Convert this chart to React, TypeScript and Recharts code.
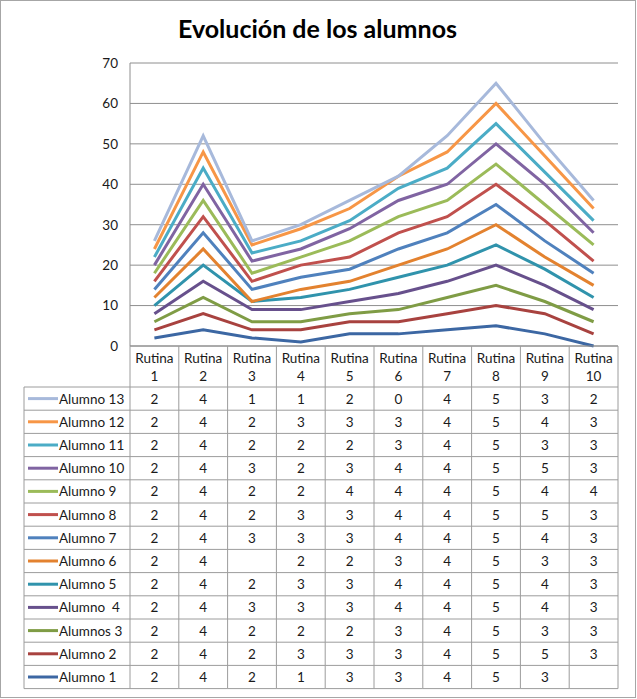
import React from 'react';
import { ComposedChart, Area, XAxis, YAxis, CartesianGrid } from 'recharts';

const categories = ['Rutina 1', 'Rutina 2', 'Rutina 3', 'Rutina 4', 'Rutina 5', 'Rutina 6', 'Rutina 7', 'Rutina 8', 'Rutina 9', 'Rutina 10'];
const yTicks = [0, 10, 20, 30, 40, 50, 60, 70];

const alumno1 = [2, 4, 2, 1, 3, 3, 4, 5, 3, null];
const alumno2 = [2, 4, 2, 3, 3, 3, 4, 5, 5, 3];
const alumno3 = [2, 4, 2, 2, 2, 3, 4, 5, 3, 3];
const alumno4 = [2, 4, 3, 3, 3, 4, 4, 5, 4, 3];
const alumno5 = [2, 4, 2, 3, 3, 4, 4, 5, 4, 3];
const alumno6 = [2, 4, null, 2, 2, 3, 4, 5, 3, 3];
const alumno7 = [2, 4, 3, 3, 3, 4, 4, 5, 4, 3];
const alumno8 = [2, 4, 2, 3, 3, 4, 4, 5, 5, 3];
const alumno9 = [2, 4, 2, 2, 4, 4, 4, 5, 4, 4];
const alumno10 = [2, 4, 3, 2, 3, 4, 4, 5, 5, 3];
const alumno11 = [2, 4, 2, 2, 2, 3, 4, 5, 3, 3];
const alumno12 = [2, 4, 2, 3, 3, 3, 4, 5, 4, 3];
const alumno13 = [2, 4, 1, 1, 2, 0, 4, 5, 3, 2];

const seriesNames = ['Alumno 1', 'Alumno 2', 'Alumnos 3', 'Alumno  4', 'Alumno 5', 'Alumno 6', 'Alumno 7', 'Alumno 8', 'Alumno 9', 'Alumno 10', 'Alumno 11', 'Alumno 12', 'Alumno 13'];
const seriesValues = [alumno1, alumno2, alumno3, alumno4, alumno5, alumno6, alumno7, alumno8, alumno9, alumno10, alumno11, alumno12, alumno13];
const seriesColors = ['#3C67A3', '#A8423F', '#7F9C45', '#67508C', '#3093AC', '#E3822F', '#4F81BD', '#C0504D', '#9BBB59', '#8064A2', '#4BACC6', '#F79646', '#A7B9DB'];

const data = categories.map((c, i) => {
  const row: Record<string, any> = { name: c };
  seriesValues.forEach((vals, s) => {
    row['s' + s] = vals[i] ?? 0;
  });
  return row;
});

const FONT = 'Lato, "Open Sans", sans-serif';
const GRID = '#8E8E8E';
const TABLE_LINE = '#9C9C9C';
const TXT = 13.5;
const W = 637;
const H = 699;
const MARGIN = { top: 63, right: 19, left: 0, bottom: 10 };
const Y_AXIS_W = 130;
const X_AXIS_H = 343;
const PLOT_W = W - MARGIN.left - MARGIN.right - Y_AXIS_W;
const COL_W = PLOT_W / categories.length;
const HEADER_H = 41;
const ROW_H = 23.2;
const LEGEND_LEFT = 24;
const nRows = seriesNames.length;

function TableTick(props: any) {
  const { x, y, payload, index } = props;
  const left = x - COL_W / 2;
  const right = x + COL_W / 2;
  const bottom = y + HEADER_H + nRows * ROW_H;
  const parts = String(payload.value).split(' ');
  const ci = categories.indexOf(payload.value);
  const order = seriesNames.map((_, i) => nRows - 1 - i);
  return (
    <g>
      <line x1={right} y1={y} x2={right} y2={bottom} stroke={TABLE_LINE} strokeWidth={1} />
      {index === 0 && <line x1={left} y1={y} x2={left} y2={bottom} stroke={TABLE_LINE} strokeWidth={1} />}
      <text x={x} y={y + 11.5} textAnchor="middle" dominantBaseline="central" fontSize={TXT} fontFamily={FONT} fill="#1a1a1a">{parts[0]}</text>
      <text x={x} y={y + 29.5} textAnchor="middle" dominantBaseline="central" fontSize={TXT} fontFamily={FONT} fill="#1a1a1a">{parts[1]}</text>
      {order.map((s, r) => {
        const top = y + HEADER_H + r * ROW_H;
        const v = seriesValues[s][ci];
        return (
          <g key={s}>
            <line x1={index === 0 ? LEGEND_LEFT : left} y1={top} x2={right} y2={top} stroke={TABLE_LINE} strokeWidth={1} />
            {v !== null && v !== undefined && (
              <text x={x} y={top + ROW_H / 2} textAnchor="middle" dominantBaseline="central" fontSize={TXT} fontFamily={FONT} fill="#1a1a1a">{v}</text>
            )}
            {index === 0 && (
              <g>
                <line x1={LEGEND_LEFT + 4} y1={top + ROW_H / 2} x2={LEGEND_LEFT + 34} y2={top + ROW_H / 2} stroke={seriesColors[s]} strokeWidth={3} />
                <text x={LEGEND_LEFT + 35} y={top + ROW_H / 2} dominantBaseline="central" fontSize={TXT} fontFamily={FONT} fill="#1a1a1a" style={{ whiteSpace: 'pre' }}>{seriesNames[s]}</text>
              </g>
            )}
          </g>
        );
      })}
      <line x1={index === 0 ? LEGEND_LEFT : left} y1={bottom} x2={right} y2={bottom} stroke={TABLE_LINE} strokeWidth={1} />
      {index === 0 && <line x1={LEGEND_LEFT} y1={y + HEADER_H} x2={LEGEND_LEFT} y2={bottom} stroke={TABLE_LINE} strokeWidth={1} />}
    </g>
  );
}

export default function App() {
  return (
    <div style={{ position: 'absolute', left: 0, top: 0, width: W, height: H, background: '#fff', fontFamily: FONT }}>
      <div style={{ position: 'absolute', left: 0, top: 13, width: W - 2, textAlign: 'center', fontWeight: 700, fontSize: 25, color: '#000', fontFamily: FONT }}>
        Evolución de los alumnos
      </div>
      <ComposedChart width={W} height={H} data={data} margin={MARGIN}>
        <CartesianGrid vertical={false} stroke={GRID} strokeWidth={1} />
        <XAxis
          dataKey="name"
          scale="band"
          interval={0}
          height={X_AXIS_H}
          tickSize={0}
          tickMargin={0}
          tickLine={false}
          axisLine={{ stroke: GRID }}
          tick={<TableTick />}
        />
        <YAxis
          width={Y_AXIS_W}
          domain={[0, 70]}
          ticks={yTicks}
          interval={0}
          tickLine={false}
          tickSize={4}
          tickMargin={8}
          axisLine={{ stroke: GRID }}
          tick={{ fontSize: TXT, fontFamily: FONT, fill: '#1a1a1a' }}
        />
        {seriesNames.map((n, s) => (
          <Area
            key={n}
            dataKey={'s' + s}
            name={n}
            stackId="a"
            type="linear"
            stroke={seriesColors[s]}
            strokeWidth={3}
            fill="none"
            fillOpacity={0}
            dot={false}
            activeDot={false}
            isAnimationActive={false}
          />
        ))}
      </ComposedChart>
      <svg width={W} height={H} style={{ position: 'absolute', left: 0, top: 0, pointerEvents: 'none' }}>
        <rect x={0.5} y={0.5} width={635} height={697} fill="none" stroke="#A6A6A6" strokeWidth={1} />
      </svg>
    </div>
  );
}
